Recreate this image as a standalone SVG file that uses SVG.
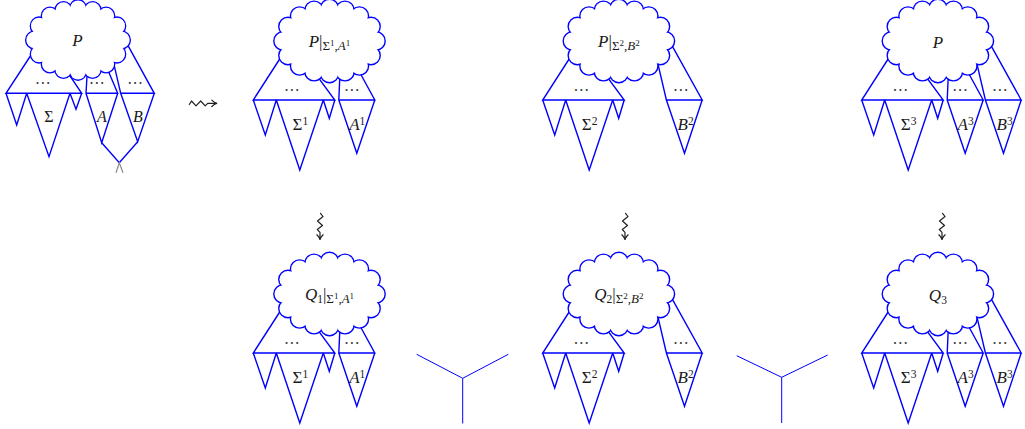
<svg xmlns="http://www.w3.org/2000/svg" xmlns:xlink="http://www.w3.org/1999/xlink" width="1025" height="429" viewBox="0 0 1025 429">
<style>
.ln{fill:none;stroke:#0000ff;stroke-width:1.4}
.yl{fill:none;stroke:#0000ff;stroke-width:1}
.sq{fill:none;stroke:#222;stroke-width:1.2;stroke-linejoin:round;stroke-linecap:round}
.lab{font-family:"Liberation Serif","DejaVu Serif",serif;font-size:17px;fill:#1a1a1a;text-anchor:middle}
.it{font-style:italic}
.sb{font-size:13px}
.sp{font-size:9px}
.su{font-size:11.5px}
.dots{font-family:"DejaVu Sans",sans-serif;font-size:16px;fill:#444;text-anchor:middle}
</style>
<defs>
<g id="cloud">
<g fill="none" stroke="#0000ff" stroke-width="2.8">
<circle cx="46.5" cy="0" r="8.5"/><circle cx="41.54" cy="-14.6" r="8.5"/><circle cx="29.87" cy="-24.91" r="8.5"/><circle cx="15.47" cy="-30.64" r="8.5"/><circle cx="0" cy="-32.5" r="8.5"/><circle cx="-15.47" cy="-30.64" r="8.5"/><circle cx="-29.87" cy="-24.91" r="8.5"/><circle cx="-41.54" cy="-14.6" r="8.5"/><circle cx="-46.5" cy="0" r="8.5"/><circle cx="-41.54" cy="14.6" r="8.5"/><circle cx="-29.87" cy="24.91" r="8.5"/><circle cx="-15.47" cy="30.64" r="8.5"/><circle cx="0" cy="32.5" r="8.5"/><circle cx="15.47" cy="30.64" r="8.5"/><circle cx="29.87" cy="24.91" r="8.5"/><circle cx="41.54" cy="14.6" r="8.5"/>
</g>
<g fill="#fff">
<ellipse cx="0" cy="0" rx="46.5" ry="32.5"/>
<circle cx="46.5" cy="0" r="8.5"/><circle cx="41.54" cy="-14.6" r="8.5"/><circle cx="29.87" cy="-24.91" r="8.5"/><circle cx="15.47" cy="-30.64" r="8.5"/><circle cx="0" cy="-32.5" r="8.5"/><circle cx="-15.47" cy="-30.64" r="8.5"/><circle cx="-29.87" cy="-24.91" r="8.5"/><circle cx="-41.54" cy="-14.6" r="8.5"/><circle cx="-46.5" cy="0" r="8.5"/><circle cx="-41.54" cy="14.6" r="8.5"/><circle cx="-29.87" cy="24.91" r="8.5"/><circle cx="-15.47" cy="30.64" r="8.5"/><circle cx="0" cy="32.5" r="8.5"/><circle cx="15.47" cy="30.64" r="8.5"/><circle cx="29.87" cy="24.91" r="8.5"/><circle cx="41.54" cy="14.6" r="8.5"/>
</g>
</g>
<g id="leftpart">
<path class="ln" d="M37.7,41.5 L0,100 L81.5,100 L59.1,69.6"/>
<path class="ln" d="M0,100 L12,135 L23,100 M23,100 L46.5,170 L70,100 M70,100 L76,118.3 L81.5,100"/>
</g>
<path id="atri" class="ln" d="M87.2,62 L85.5,100 L121.5,100 L100.2,61 M85.5,100 L103.5,153.3 L121.5,100"/>
<path id="btri" class="ln" d="M113.3,55.6 L123.7,100 L159.5,100 L121.4,31.3 M123.7,100 L141.8,153.3 L159.5,100"/>
<g id="vsq">
<path class="sq" d="M320.5,213.3 L323,216.5 L317.5,221 L322.5,225.5 L317.3,229.5 L320,232.3 L320,239.3"/>
<path class="sq" d="M316.8,234.8 Q319.3,237 320,239.3 Q320.7,237 323.2,234.8"/>
</g>
</defs>

<g id="connectors">
<path class="sq" d="M189.3,104.5 L191.5,101 L196,105.8 L200.7,101 L205.2,105.8 L207.7,103.3 L216.5,103.3"/>
<path class="sq" d="M211.8,100.1 Q214.3,102.6 216.7,103.3 Q214.3,104 211.8,106.5"/>
<use href="#vsq"/>
<use href="#vsq" x="305"/>
<use href="#vsq" x="622"/>
<path class="yl" d="M416.7,354.3 L462.7,378.3 L508.3,354.3 M462.7,378.3 L462.7,423.5"/>
<path class="yl" d="M736.7,355.7 L781.7,377.3 L827.7,355 M781.7,377.3 L781.7,423"/>
</g>

<g id="node-p0">
<path class="ln" d="M42.8,37 L6,93.3 L81.7,93.3 L61.6,63.3"/>
<path class="ln" d="M6,93.3 L16.7,125 L26.7,93.3 M26.7,93.3 L49,156.7 L70,93.3 M70,93.3 L76,109.3 L81.7,93.3"/>
<path class="ln" d="M87.8,63 L86,93.3 L117.7,93.3 L101.2,54.3 M86,93.3 L101.7,142.7 L117.7,93.3"/>
<path class="ln" d="M111.1,52.2 L120.7,93.3 L154.3,93.3 L119.1,29.3 M120.7,93.3 L137.7,141.7 L154.3,93.3"/>
<path class="ln" d="M101.7,142.7 L119.3,162.7 L137.7,141.7"/>
<path d="M116,172.7 L119.3,162.7 L123,172.7" fill="none" stroke="#8c8c8c" stroke-width="1.2"/>
<use href="#cloud" transform="translate(78,40) scale(0.94,0.965)"/>
<text class="lab it" x="77.5" y="45.5">P</text>
<text class="dots" x="42.7" y="87.7">⋯</text>
<text class="dots" x="96.7" y="87.7">⋯</text>
<text class="dots" x="135" y="87.7">⋯</text>
<text class="lab" x="49" y="121.7" style="font-size:16px">Σ</text>
<text class="lab it" x="102" y="121.7" style="font-size:16px">A</text>
<text class="lab it" x="138" y="121.7" style="font-size:16px">B</text>
</g>

<g id="node-p1" transform="translate(253.3,0)">
<use href="#leftpart"/>
<use href="#atri"/>
<use href="#cloud" x="76.2" y="41"/>
<text class="lab" x="76.2" y="47"><tspan class="it">P</tspan>|<tspan class="sb" dy="3.3">Σ</tspan><tspan class="sp" dy="-4.5">1</tspan><tspan class="sb" dy="4.5">,</tspan><tspan class="sb it">A</tspan><tspan class="sp" dy="-4.5">1</tspan></text>
<text class="dots" x="38.5" y="95">⋯</text>
<text class="dots" x="98.4" y="95">⋯</text>
<text class="lab" x="47" y="130">Σ<tspan class="su" dy="-5.5">1</tspan></text>
<text class="lab" x="104" y="130"><tspan class="it">A</tspan><tspan class="su" dy="-5.5">1</tspan></text>
</g>

<g id="node-p2" transform="translate(542.7,0)">
<use href="#leftpart"/>
<use href="#btri"/>
<use href="#cloud" x="76.2" y="41"/>
<text class="lab" x="76.2" y="47"><tspan class="it">P</tspan>|<tspan class="sb" dy="3.3">Σ</tspan><tspan class="sp" dy="-4.5">2</tspan><tspan class="sb" dy="4.5">,</tspan><tspan class="sb it">B</tspan><tspan class="sp" dy="-4.5">2</tspan></text>
<text class="dots" x="38.5" y="95">⋯</text>
<text class="dots" x="138" y="95">⋯</text>
<text class="lab" x="47" y="130">Σ<tspan class="su" dy="-5.5">2</tspan></text>
<text class="lab" x="143" y="130"><tspan class="it">B</tspan><tspan class="su" dy="-5.5">2</tspan></text>
</g>

<g id="node-p3" transform="translate(861.7,0)">
<use href="#leftpart"/>
<use href="#atri"/>
<use href="#btri"/>
<use href="#cloud" x="76.2" y="41"/>
<text class="lab it" x="76.2" y="47.5">P</text>
<text class="dots" x="38.5" y="95">⋯</text>
<text class="dots" x="98.4" y="95">⋯</text>
<text class="dots" x="138" y="95">⋯</text>
<text class="lab" x="47" y="130">Σ<tspan class="su" dy="-5.5">3</tspan></text>
<text class="lab" x="104" y="130"><tspan class="it">A</tspan><tspan class="su" dy="-5.5">3</tspan></text>
<text class="lab" x="143" y="130"><tspan class="it">B</tspan><tspan class="su" dy="-5.5">3</tspan></text>
</g>

<g id="node-q1" transform="translate(253.3,253)">
<use href="#leftpart"/>
<use href="#atri"/>
<use href="#cloud" x="76.2" y="41"/>
<text class="lab" x="76.2" y="47"><tspan class="it">Q</tspan><tspan class="su" dy="3">1</tspan><tspan dy="-3">|</tspan><tspan class="sb" dy="3.3">Σ</tspan><tspan class="sp" dy="-4.5">1</tspan><tspan class="sb" dy="4.5">,</tspan><tspan class="sb it">A</tspan><tspan class="sp" dy="-4.5">1</tspan></text>
<text class="dots" x="38.5" y="95">⋯</text>
<text class="dots" x="98.4" y="95">⋯</text>
<text class="lab" x="47" y="130">Σ<tspan class="su" dy="-5.5">1</tspan></text>
<text class="lab" x="104" y="130"><tspan class="it">A</tspan><tspan class="su" dy="-5.5">1</tspan></text>
</g>

<g id="node-q2" transform="translate(542.7,253)">
<use href="#leftpart"/>
<use href="#btri"/>
<use href="#cloud" x="76.2" y="41"/>
<text class="lab" x="76.2" y="47"><tspan class="it">Q</tspan><tspan class="su" dy="3">2</tspan><tspan dy="-3">|</tspan><tspan class="sb" dy="3.3">Σ</tspan><tspan class="sp" dy="-4.5">2</tspan><tspan class="sb" dy="4.5">,</tspan><tspan class="sb it">B</tspan><tspan class="sp" dy="-4.5">2</tspan></text>
<text class="dots" x="38.5" y="95">⋯</text>
<text class="dots" x="138" y="95">⋯</text>
<text class="lab" x="47" y="130">Σ<tspan class="su" dy="-5.5">2</tspan></text>
<text class="lab" x="143" y="130"><tspan class="it">B</tspan><tspan class="su" dy="-5.5">2</tspan></text>
</g>

<g id="node-q3" transform="translate(861.7,253)">
<use href="#leftpart"/>
<use href="#atri"/>
<use href="#btri"/>
<use href="#cloud" x="76.2" y="41"/>
<text class="lab" x="76.2" y="47.5"><tspan class="it">Q</tspan><tspan class="su" dy="3">3</tspan></text>
<text class="dots" x="38.5" y="95">⋯</text>
<text class="dots" x="98.4" y="95">⋯</text>
<text class="dots" x="138" y="95">⋯</text>
<text class="lab" x="47" y="130">Σ<tspan class="su" dy="-5.5">3</tspan></text>
<text class="lab" x="104" y="130"><tspan class="it">A</tspan><tspan class="su" dy="-5.5">3</tspan></text>
<text class="lab" x="143" y="130"><tspan class="it">B</tspan><tspan class="su" dy="-5.5">3</tspan></text>
</g>
</svg>
